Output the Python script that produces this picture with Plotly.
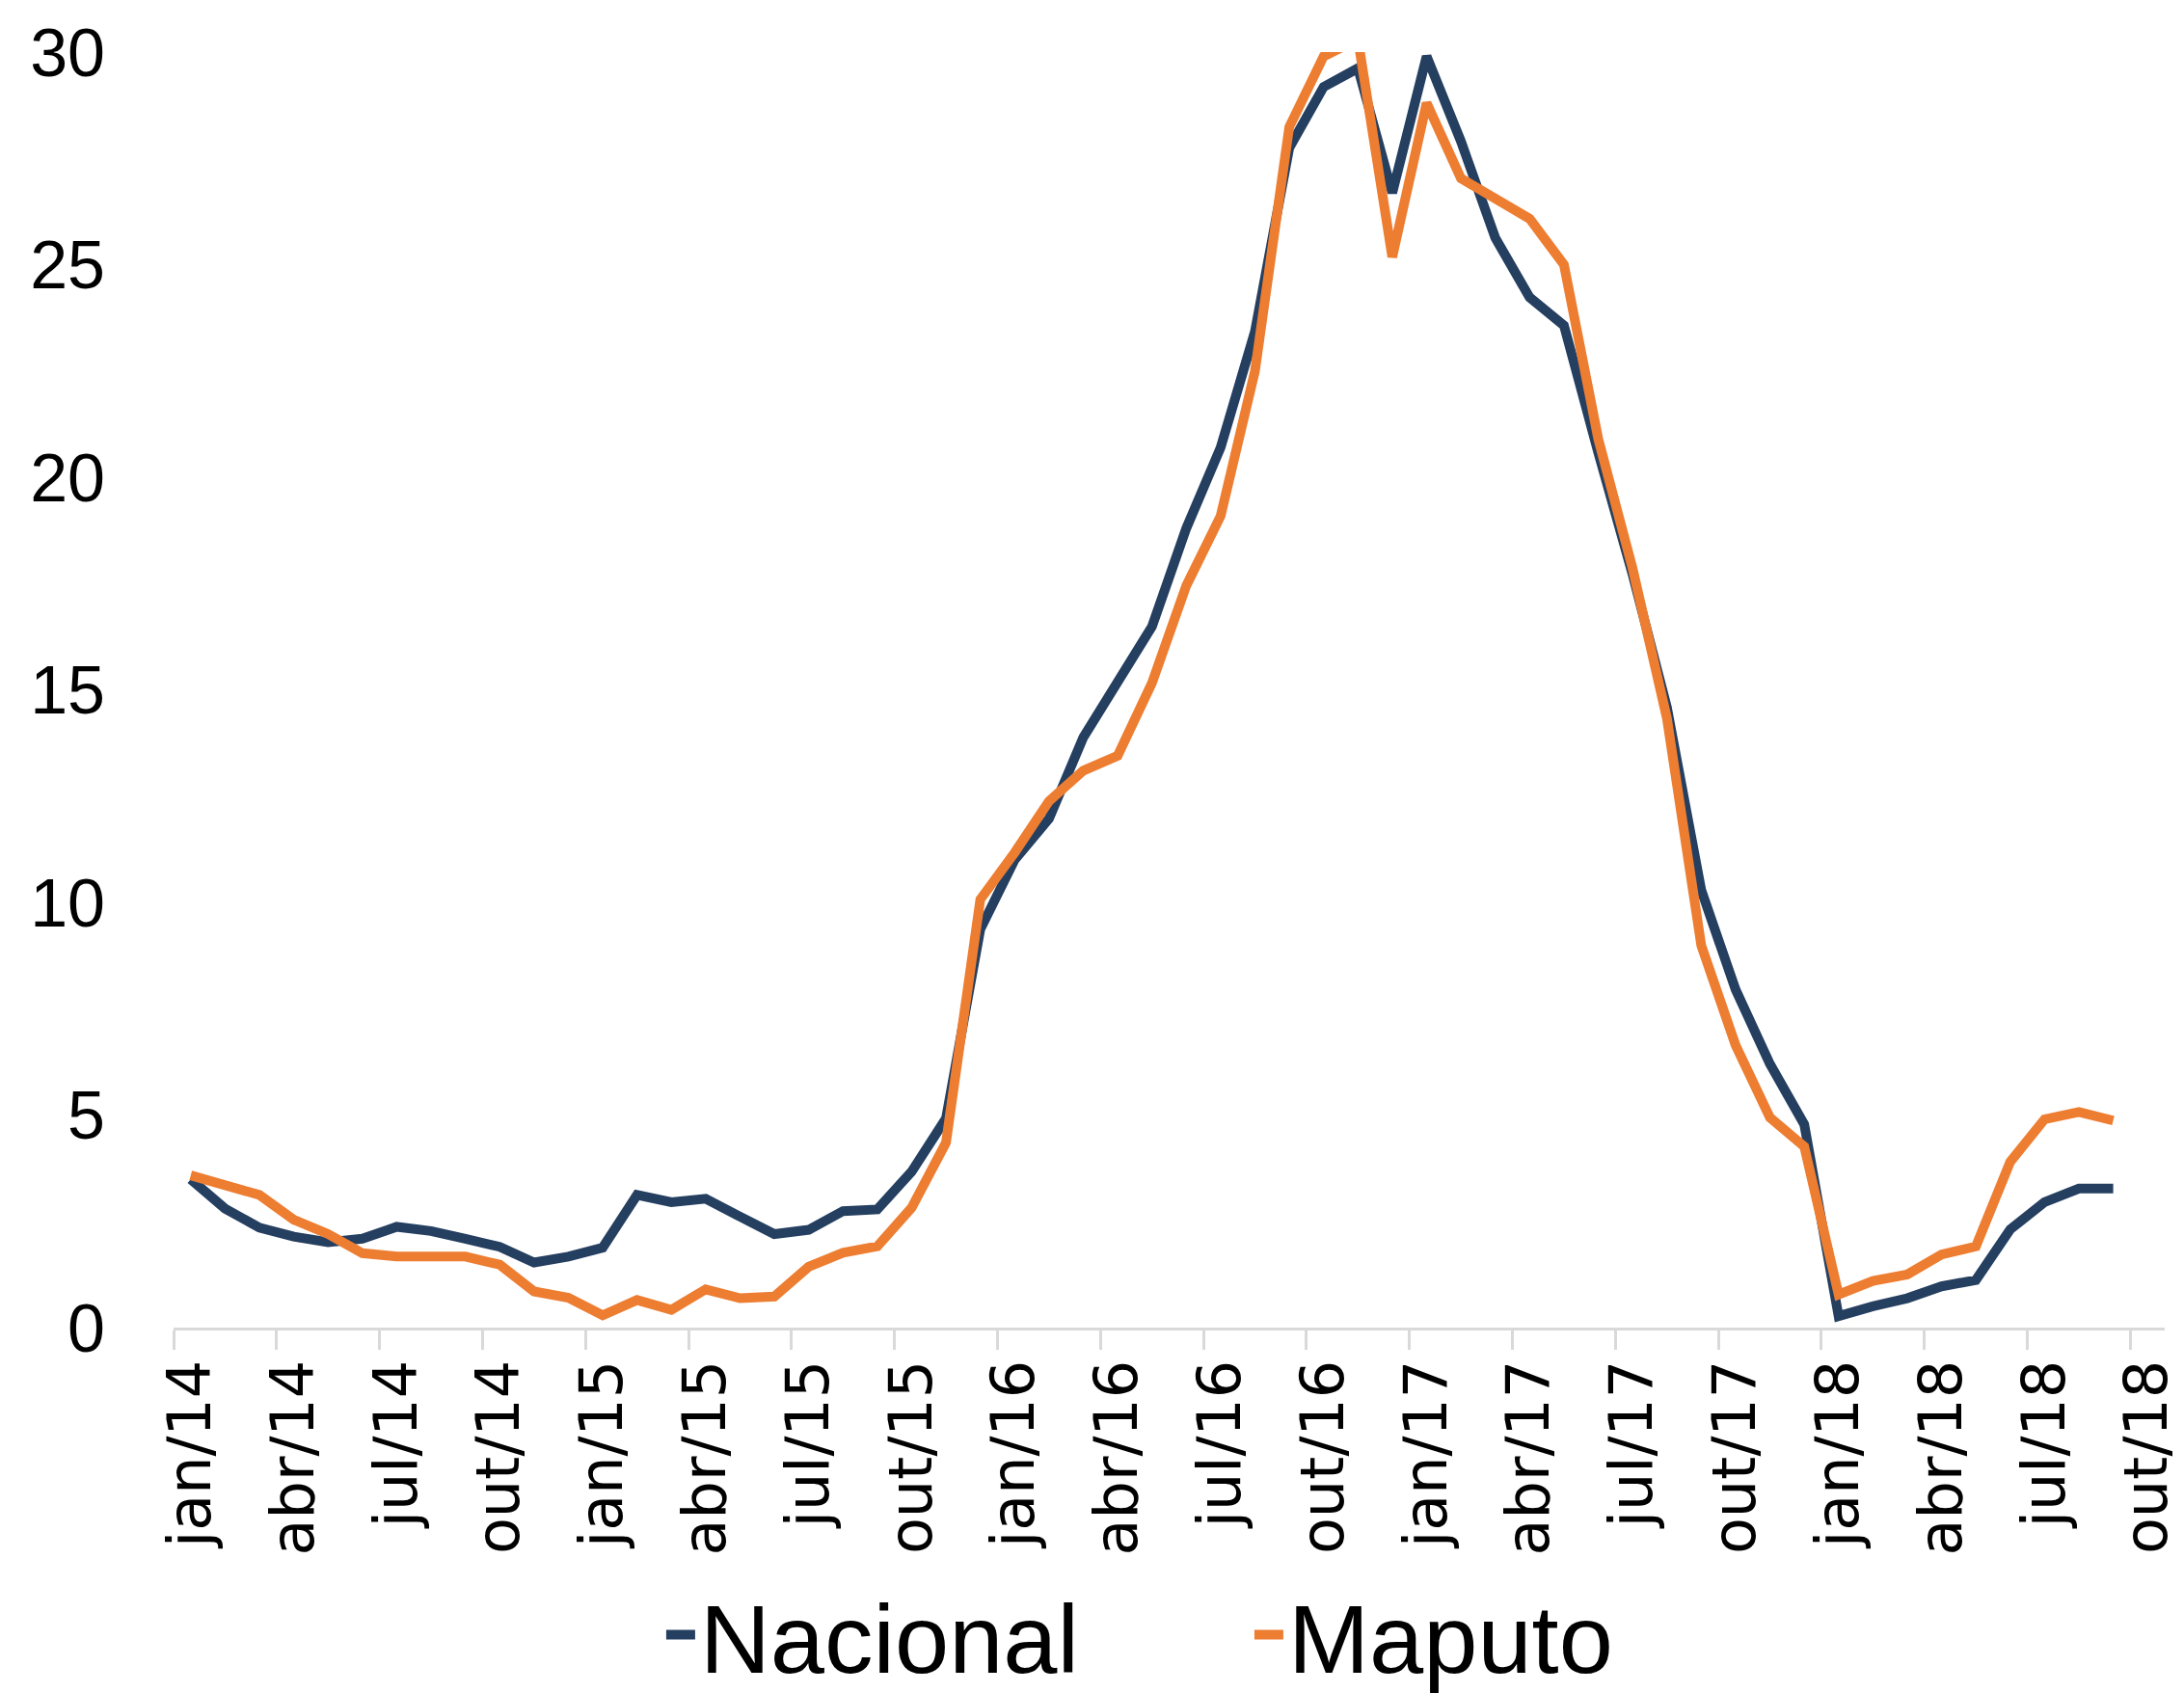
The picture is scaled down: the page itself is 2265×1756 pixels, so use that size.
import plotly.graph_objects as go

months_pt = ["jan", "fev", "mar", "abr", "mai", "jun", "jul", "ago", "set", "out", "nov", "dez"]
categories = [f"{m}/{y}" for y in range(14, 19) for m in months_pt][:58]  # jan/14 .. out/18

nacional = [3.49, 2.80, 2.35, 2.14, 2.01, 2.09, 2.37, 2.27, 2.09, 1.90,
            1.53, 1.67, 1.88, 3.12, 2.95, 3.03, 2.61, 2.20, 2.30, 2.74,
            2.78, 3.67, 4.92, 9.37, 11.00, 11.97, 13.88, 15.16, 16.49, 18.80,
            20.70, 23.43, 27.75, 29.18, 29.62, 26.69, 29.90, 27.90, 25.63, 24.23,
            23.57, 20.58, 17.71, 14.59, 10.29, 7.95, 6.20, 4.78, 0.27, 0.50,
            0.69, 0.97, 1.12, 2.31, 2.95, 3.27, 3.27]
maputo = [3.58, 3.37, 3.12, 2.54, 2.20, 1.75, 1.67, 1.67, 1.67, 1.48,
          0.85, 0.70, 0.29, 0.65, 0.42, 0.90, 0.69, 0.73, 1.43, 1.76,
          1.91, 2.82, 4.35, 10.07, 11.17, 12.38, 13.10, 13.45, 15.16, 17.45,
          19.09, 22.50, 28.24, 29.90, 30.30, 25.18, 28.80, 27.03, 26.54, 26.08,
          25.00, 20.90, 17.85, 14.33, 8.99, 6.64, 4.94, 4.26, 0.78, 1.10,
          1.25, 1.72, 1.91, 3.90, 4.90, 5.07, 4.87]

series_names = ["Nacional", "Maputo"]
series_colors = ["#253F60", "#ED7D31"]
y_ticks = [0, 5, 10, 15, 20, 25, 30]

fig = go.Figure()
for name, vals, col in zip(series_names, [nacional, maputo], series_colors):
    fig.add_trace(go.Scatter(
        x=categories[:len(vals)], y=vals, name=name, mode="lines",
        line=dict(color=col, width=10),
    ))

fig.update_layout(
    width=2265, height=1756,
    margin=dict(l=180, r=20, t=54, b=379, autoexpand=False),
    paper_bgcolor="white", plot_bgcolor="white",
    showlegend=True,
    legend=dict(
        orientation="h", x=0.245, xanchor="left", y=-0.241, yanchor="middle",
        font=dict(family="Liberation Sans", size=101, color="black"),
        entrywidth=565, entrywidthmode="pixels",
        bgcolor="rgba(0,0,0,0)",
    ),
)
fig.update_xaxes(
    type="category", categoryorder="array", categoryarray=categories,
    range=[-0.5, len(categories) - 0.5],
    tickmode="linear", tick0=0, dtick=3, tickson="boundaries",
    ticks="outside", ticklen=20, tickwidth=2.5, tickcolor="#D9D9D9",
    showline=True, linecolor="#D9D9D9", linewidth=3,
    showgrid=False, zeroline=False, automargin=False,
    tickangle=-90, ticklabelstandoff=6,
    tickfont=dict(family="DejaVu Sans", size=62, color="black"),
)
fig.update_yaxes(
    range=[0, 30], tickvals=y_ticks, ticktext=[str(v) for v in y_ticks],
    showline=False, showgrid=False, zeroline=False, ticks="", automargin=False,
    ticklabelstandoff=70,
    tickfont=dict(family="Liberation Sans", size=70, color="black"),
)

fig.write_html(
    "out.html",
    config={"displayModeBar": False},
    post_script="document.body.style.margin='0';document.body.style.padding='0';",
)
